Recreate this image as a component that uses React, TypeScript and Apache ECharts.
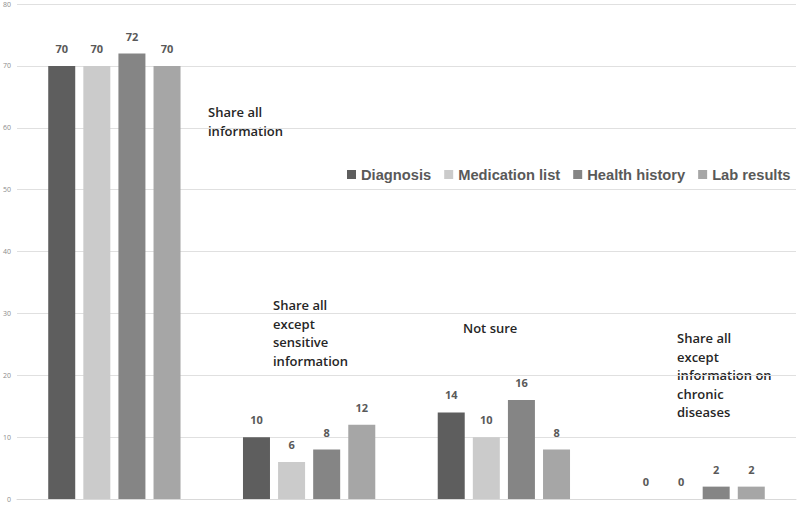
import React, { useEffect, useRef } from "react";
import * as echarts from "echarts";

const categories = [
  "Share all\ninformation",
  "Share all\nexcept\nsensitive\ninformation",
  "Not sure",
  "Share all\nexcept\ninformation on\nchronic\ndiseases",
];
const seriesNames = ["Diagnosis", "Medication list", "Health history", "Lab results"];
const diagnosis = [70, 10, 14, 0];
const medicationList = [70, 6, 10, 0];
const healthHistory = [72, 8, 16, 2];
const labResults = [70, 12, 8, 2];
const yTicks = { min: 0, max: 80, interval: 10 };

const colors = ["#5e5e5e", "#cbcbcb", "#858585", "#a6a6a6"];
const catLabelPos = [
  [208, 103],
  [273, 296],
  [463, 319],
  [677, 329],
];

export default function App() {
  const ref = useRef<HTMLDivElement>(null);
  useEffect(() => {
    if (!ref.current) return;
    const chart = echarts.init(ref.current, undefined, { renderer: "svg" });
    const values = [diagnosis, medicationList, healthHistory, labResults];
    chart.setOption({
      animation: false,
      backgroundColor: "#ffffff",
      grid: { left: 16, right: 4, top: 4, bottom: 6, containLabel: false },
      legend: {
        left: 342,
        top: 162,
        icon: "rect",
        itemWidth: 9,
        itemHeight: 9,
        itemGap: 13,
        textStyle: {
          fontFamily: "Liberation Sans",
          fontWeight: "bold",
          fontSize: 14.7,
          color: "#595959",
        },
        data: seriesNames,
      },
      xAxis: {
        type: "category",
        data: categories,
        axisLine: { show: true, lineStyle: { color: "#d9d9d9" } },
        axisTick: { show: false },
        axisLabel: { show: false },
      },
      yAxis: {
        type: "value",
        min: yTicks.min,
        max: yTicks.max,
        interval: yTicks.interval,
        axisLine: { show: false },
        axisTick: { show: false },
        splitLine: { lineStyle: { color: "#e0e0e0" } },
        axisLabel: {
          fontSize: 7,
          color: "#8c8c8c",
          margin: 6,
          fontFamily: "Open Sans",
        },
      },
      series: seriesNames.map((name, i) => ({
        name,
        type: "bar",
        data: values[i],
        barWidth: 27,
        barGap: "30%",
        itemStyle: { color: colors[i] },
        label: {
          show: true,
          position: "top",
          distance: 12,
          fontFamily: "Open Sans",
          fontWeight: "bold",
          fontSize: 11,
          color: "#595959",
        },
      })),
      graphic: categories.map((c, i) => ({
        type: "text",
        left: catLabelPos[i][0],
        top: catLabelPos[i][1],
        style: {
          text: c,
          fontFamily: "Open Sans",
          fontWeight: 600,
          fontSize: 13,
          lineHeight: 18.5,
          fill: "#262626",
        },
      })),
    });
    return () => chart.dispose();
  }, []);
  return <div ref={ref} style={{ width: 800, height: 505, position: "absolute", left: 0, top: 0 }} />;
}
